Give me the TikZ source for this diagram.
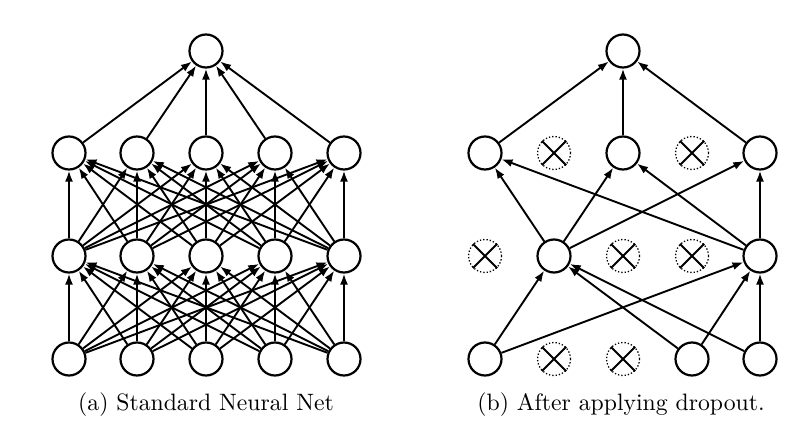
\documentclass[tikz,border=0pt]{standalone}
\usetikzlibrary{arrows.meta}
\begin{document}
\begin{tikzpicture}[x=1pt,y=-1pt,
  neuron/.style={circle,draw,line width=2.2pt,minimum size=33pt,inner sep=0pt},
  dropped/.style={circle,draw,dotted,line width=1.3pt,minimum size=33pt,inner sep=0pt},
  cross/.style={line width=1.9pt},
  conn/.style={line width=1.9pt,-{Latex[length=11pt,width=8pt]}},
  captext/.style={font=\fontsize{10}{12}\selectfont,scale=2.37,inner sep=0pt}]
\useasboundingbox (0,0) rectangle (802,438);
% ---------- (a) standard net ----------
\foreach \i/\x in {1/69,2/137,3/206,4/275,5/344} {
  \node[neuron] (la\i) at (\x,359) {};
  \node[neuron] (lb\i) at (\x,256) {};
  \node[neuron] (lc\i) at (\x,153) {};
}
\node[neuron] (lt) at (206,51) {};
\foreach \i in {1,...,5} {
  \foreach \j in {1,...,5} {
    \draw[conn] (la\i) -- (lb\j);
    \draw[conn] (lb\i) -- (lc\j);
  }
  \draw[conn] (lc\i) -- (lt);
}
% ---------- (b) after dropout ----------
\node[neuron] (ra1) at (485,359) {};
\node[dropped] (ra2) at (554,359) {};
\node[dropped] (ra3) at (623,359) {};
\node[neuron] (ra4) at (692,359) {};
\node[neuron] (ra5) at (760,359) {};
\node[dropped] (rb1) at (485,256) {};
\node[neuron] (rb2) at (554,256) {};
\node[dropped] (rb3) at (623,256) {};
\node[dropped] (rb4) at (692,256) {};
\node[neuron] (rb5) at (760,256) {};
\node[neuron] (rc1) at (485,153) {};
\node[dropped] (rc2) at (554,153) {};
\node[neuron] (rc3) at (623,153) {};
\node[dropped] (rc4) at (692,153) {};
\node[neuron] (rc5) at (760,153) {};
\node[neuron] (rt) at (623,51) {};
\foreach \d in {ra2,ra3,rb1,rb3,rb4,rc2,rc4} {
  \draw[cross] (\d.north east) -- (\d.south west) (\d.north west) -- (\d.south east);
}
\foreach \s in {ra1,ra4,ra5} {
  \draw[conn] (\s) -- (rb2);
  \draw[conn] (\s) -- (rb5);
}
\foreach \s in {rb2,rb5} {
  \draw[conn] (\s) -- (rc1);
  \draw[conn] (\s) -- (rc3);
  \draw[conn] (\s) -- (rc5);
}
\foreach \s in {rc1,rc3,rc5} \draw[conn] (\s) -- (rt);
% ---------- captions ----------
\node[captext] (capa) at (206,405) {(a) Standard Neural Net};
\node[captext] (capb) at (621,405) {(b) After applying dropout.};
\end{tikzpicture}
\end{document}
